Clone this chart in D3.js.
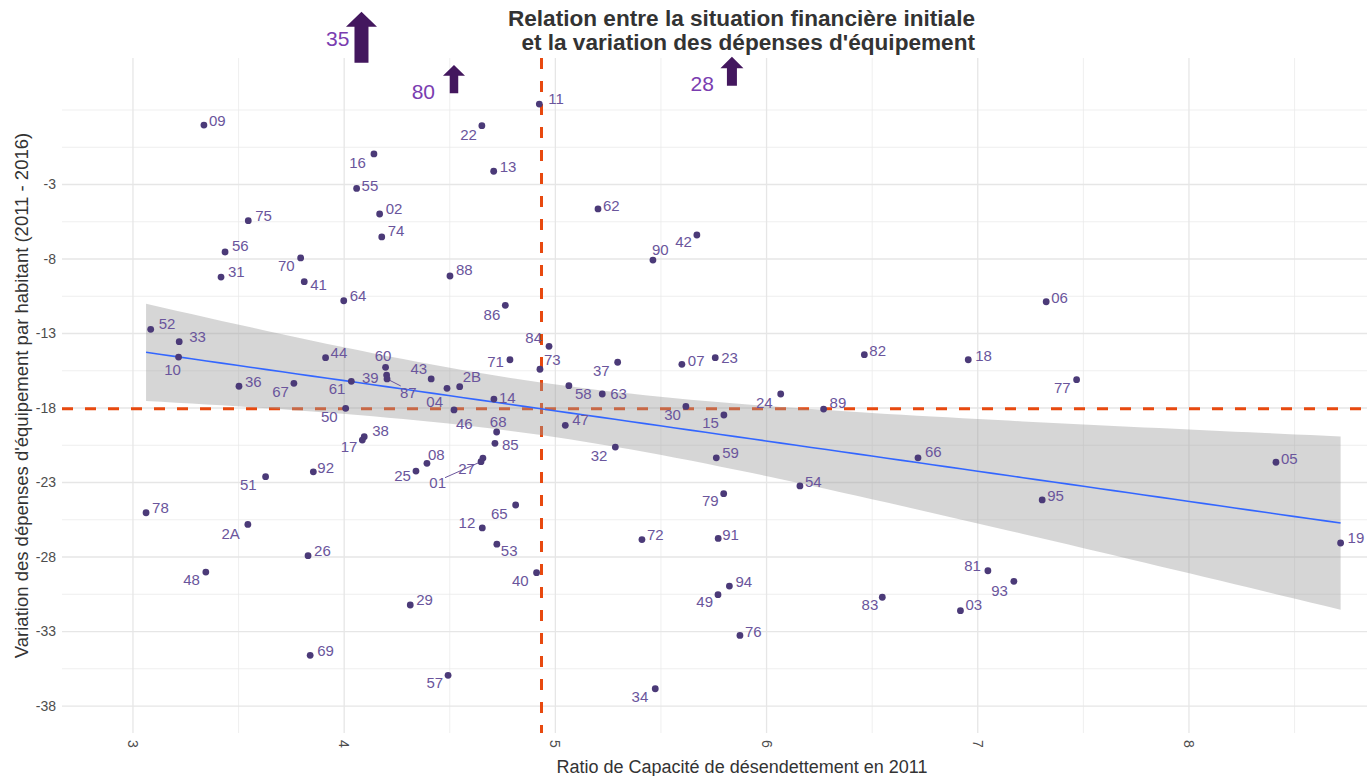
<!DOCTYPE html>
<html>
<head>
<meta charset="utf-8">
<script src="https://cdn.jsdelivr.net/npm/d3@7"></script>
<style>
  body { margin: 0; background: #fff; }
  text { font-family: "Liberation Sans", Arial, sans-serif; }
</style>
</head>
<body>
<svg id="chart" width="1367" height="776"></svg>
<script>
// Departments, ratio of debt capacity in 2011 (x) and variation of equipment spending per inhabitant (y)
const depts = ["09","11","22","16","13","55","02","74","75","56",
	"70","31","41","64","88","52","33","10","44","60",
	"39","87","36","67","61","43","04","2B","50","46",
	"14","71","86","84","73","37","07","58","63","30",
	"47","68","85","32","38","17","92","08","25","27",
	"01","65","12","53","72","51","78","2A","26","48",
	"40","29","69","57","34","62","42","90","23","82",
	"18","24","89","15","59","66","54","79","91","95",
	"06","77","05","19","81","93","94","49","83","03","76"];
const ratio2011 = [3.336,4.924,4.652,4.141,4.708,4.059,4.168,4.178,3.546,3.436,
	3.794,3.417,3.811,3.998,4.501,3.084,3.219,3.216,3.912,4.196,
	4.201,4.203,3.502,3.762,4.034,4.412,4.487,4.547,4.007,4.520,
	4.709,4.785,4.763,4.970,4.927,5.295,5.599,5.064,5.222,5.618,
	5.047,4.722,4.714,5.284,4.095,4.086,3.854,4.392,4.340,4.657,
	4.648,4.812,4.654,4.723,5.410,3.628,3.062,3.544,3.829,3.345,
	4.911,4.313,3.839,4.492,5.473,5.202,5.670,5.462,5.757,6.463,
	6.955,6.067,6.270,5.798,5.762,6.717,6.158,5.797,5.771,7.305,
	7.324,7.468,8.412,8.718,7.048,7.171,5.824,5.770,6.548,6.918,5.874];
const varEquip = [0.99,2.40,0.95,-0.95,-2.11,-3.26,-4.98,-6.52,-5.43,-7.53,
	-7.93,-9.21,-9.52,-10.80,-9.14,-12.72,-13.55,-14.58,-14.62,-15.27,
	-15.79,-16.05,-16.54,-16.34,-16.21,-16.05,-16.68,-16.57,-18.02,-18.13,
	-17.40,-14.76,-11.11,-13.86,-15.40,-14.93,-15.07,-16.50,-17.06,-17.89,
	-19.16,-19.61,-20.37,-20.62,-19.93,-20.15,-22.28,-21.71,-22.23,-21.36,
	-21.60,-24.51,-26.05,-27.14,-26.83,-22.61,-25.03,-25.81,-27.91,-29.01,
	-29.05,-31.22,-34.60,-35.94,-36.84,-4.64,-6.39,-8.07,-14.62,-14.42,
	-14.76,-17.06,-18.07,-18.47,-21.34,-21.34,-23.23,-23.75,-26.75,-24.17,
	-10.87,-16.10,-21.64,-27.06,-28.92,-29.63,-29.95,-30.53,-30.70,-31.60,-33.26];

// Departments above the visible range, shown as arrows
const outDepts = ["35", "80", "28"];
const outRatio = [4.082, 4.520, 5.836];

const xTicks = [3, 4, 5, 6, 7, 8];
const yTicks = [-38, -33, -28, -23, -18, -13, -8, -3];
const tCrit = 1.987; // qt(0.975, n - 2)

// label placement (ggrepel-like): [dx, dy, anchor]; dx < 0 means text ends left of the dot
const labelPos = {
	"09":[5,-4],"11":[9,-5],"22":[-5,9],"16":[-8,9],"13":[6,-4],"55":[5,-3],"02":[6,-5],"74":[6,-6],
	"75":[7,-5],"56":[7,-6],"70":[-6,8],"31":[7,-5],"41":[6,3],"64":[6,-5],"88":[6,-6],"52":[8,-6],
	"33":[10,-5],"10":[-6,13,"middle"],"44":[5,-5],"60":[-2.5,-12,"middle"],"39":[-8,3],"87":[13,14],
	"36":[6,-5],"67":[-5,8],"61":[-6,7],"43":[-4,-10],"04":[-4,13],"2B":[3,-10],"50":[-8,8],"46":[2,14],
	"14":[5,-1],"71":[-6,2],"86":[-5,9],"84":[-7,-9],"73":[4,-10],"37":[-8,8],"07":[6,-4],"58":[6,8],
	"63":[8,0],"30":[-5,8],"47":[7,-6],"68":[1.5,-10,"middle"],"85":[7,1],"32":[-8,9],"38":[8,-6],
	"17":[-5,7],"92":[4,-4],"08":[1,-9],"25":[-5,5],"27":[-8,11],"01":[-35,21],"65":[-8,9],"12":[-7,-5],
	"53":[4,7],"72":[5,-5],"51":[-9,8],"78":[6,-5],"2A":[-8,9],"26":[6,-5],"48":[-6,8],"40":[-8,8],
	"29":[6,-5],"69":[7,-5],"57":[-5,7],"34":[-7,8],"62":[5,-3],"42":[-5,7],"90":[-1,-10,"start"],"23":[6,0],
	"82":[5,-4],"18":[7,-4],"24":[-8,9],"89":[6,-6],"15":[-5,8],"59":[6,-5],"66":[7,-6],"54":[5,-4],
	"79":[-5,7],"91":[4,-4],"95":[5,-4],"06":[5,-4],"77":[-6,8],"05":[5,-4],"19":[7,-5],"81":[-7,-5],
	"93":[-6,9],"94":[6,-4],"49":[-5,7],"83":[-4,7],"03":[5,-6],"76":[5,-4]
};
// leader segments for labels pushed away from their dot
const leaders = { "87": [13.7, 7], "01": [-36, 16] };
// arrow shapes for the off-chart departments
const arrowShape = {
	"35": { tip: 11.7, neck: 26.7, bottom: 62.7, head: 31, shaft: 14, tx: 12 },
	"80": { tip: 65, neck: 75.7, bottom: 93.3, head: 22, shaft: 8.5, tx: 19 },
	"28": { tip: 56.7, neck: 68.3, bottom: 85.7, head: 23, shaft: 10, tx: 18 }
};

const data = depts.map((d, i) => ({ dep: d, x: ratio2011[i], y: varEquip[i] }));

const svg = d3.select("#chart");
const panel = { left: 62, right: 1367, top: 58, bottom: 733 };

const x = d3.scaleLinear().domain([2.664, 8.843]).range([panel.left, panel.right]);
const y = d3.scaleLinear().domain([-39.81, 5.49]).range([panel.bottom, panel.top]);

// grid
const xMinor = xTicks.map(t => t + 0.5).filter(t => t < x.domain()[1]);
const yMinor = yTicks.map(t => t + 2.5).concat([yTicks[yTicks.length - 1] + 5]);
const grid = svg.append("g");
grid.selectAll(".xminor").data(xMinor).enter().append("line")
	.attr("x1", d => x(d)).attr("x2", d => x(d))
	.attr("y1", panel.top).attr("y2", panel.bottom)
	.attr("stroke", "#ebebeb").attr("stroke-width", 0.8);
grid.selectAll(".yminor").data(yMinor).enter().append("line")
	.attr("y1", d => y(d)).attr("y2", d => y(d))
	.attr("x1", panel.left).attr("x2", panel.right)
	.attr("stroke", "#ebebeb").attr("stroke-width", 0.8);
grid.selectAll(".xmajor").data(xTicks).enter().append("line")
	.attr("x1", d => x(d)).attr("x2", d => x(d))
	.attr("y1", panel.top).attr("y2", panel.bottom)
	.attr("stroke", "#e6e6e6").attr("stroke-width", 1.3);
grid.selectAll(".ymajor").data(yTicks).enter().append("line")
	.attr("y1", d => y(d)).attr("y2", d => y(d))
	.attr("x1", panel.left).attr("x2", panel.right)
	.attr("stroke", "#e6e6e6").attr("stroke-width", 1.3);

// axes labels
svg.append("g").selectAll("text").data(yTicks).enter().append("text")
	.attr("x", 56).attr("y", d => y(d)).attr("dy", "0.35em")
	.attr("text-anchor", "end").attr("font-size", 14).attr("fill", "#4d4d4d")
	.text(d => d);
svg.append("g").selectAll("text").data(xTicks).enter().append("text")
	.attr("transform", d => `translate(${x(d)},740) rotate(90)`)
	.attr("dy", "0.35em").attr("text-anchor", "start")
	.attr("font-size", 14).attr("fill", "#4d4d4d")
	.text(d => d);

// mean reference lines
const xMean = d3.mean(data, d => d.x);
const yMean = d3.mean(data, d => d.y);
svg.append("line")
	.attr("x1", x(xMean)).attr("x2", x(xMean)).attr("y1", panel.top).attr("y2", panel.bottom)
	.attr("stroke", "#e8490f").attr("stroke-width", 3).attr("stroke-dasharray", "11,12");
svg.append("line")
	.attr("x1", panel.left).attr("x2", panel.right).attr("y1", y(yMean)).attr("y2", y(yMean))
	.attr("stroke", "#e8490f").attr("stroke-width", 3).attr("stroke-dasharray", "11,12");

// linear fit with 95% confidence band
const n = data.length;
const sxx = d3.sum(data, d => (d.x - xMean) ** 2);
const sxy = d3.sum(data, d => (d.x - xMean) * (d.y - yMean));
const slope = sxy / sxx;
const icpt = yMean - slope * xMean;
const rss = d3.sum(data, d => (d.y - (icpt + slope * d.x)) ** 2);
const sigma = Math.sqrt(rss / (n - 2));
const [xMin, xMax] = d3.extent(data, d => d.x);
const fit = d3.range(80).map(i => {
	const xv = xMin + (xMax - xMin) * i / 79;
	const yv = icpt + slope * xv;
	const se = sigma * Math.sqrt(1 / n + (xv - xMean) ** 2 / sxx);
	return { x: xv, y: yv, lo: yv - tCrit * se, hi: yv + tCrit * se };
});
svg.append("path").datum(fit)
	.attr("d", d3.area().x(d => x(d.x)).y0(d => y(d.lo)).y1(d => y(d.hi)))
	.attr("fill", "#999999").attr("fill-opacity", 0.4);
svg.append("path").datum(fit)
	.attr("d", d3.line().x(d => x(d.x)).y(d => y(d.y)))
	.attr("fill", "none").attr("stroke", "#3366ff").attr("stroke-width", 1.6);

// leader segments
svg.append("g").selectAll("line").data(data.filter(d => leaders[d.dep])).enter().append("line")
	.attr("x1", d => x(d.x)).attr("y1", d => y(d.y))
	.attr("x2", d => x(d.x) + leaders[d.dep][0]).attr("y2", d => y(d.y) + leaders[d.dep][1])
	.attr("stroke", "#6a559c").attr("stroke-width", 1);

// points
svg.append("g").selectAll("circle").data(data).enter().append("circle")
	.attr("cx", d => x(d.x)).attr("cy", d => y(d.y)).attr("r", 3.4)
	.attr("fill", "#4b3a78");

// point labels
svg.append("g").selectAll("text").data(data).enter().append("text")
	.attr("x", d => x(d.x) + labelPos[d.dep][0])
	.attr("y", d => y(d.y) + labelPos[d.dep][1])
	.attr("dy", "0.35em")
	.attr("text-anchor", d => labelPos[d.dep][2] || (labelPos[d.dep][0] < 0 ? "end" : "start"))
	.attr("font-size", 15).attr("fill", "#6a559c")
	.text(d => d.dep);

// off-chart arrows
const arrows = svg.append("g");
outDepts.forEach((dep, i) => {
	const a = arrowShape[dep];
	const cx = x(outRatio[i]);
	const pts = [
		[cx, a.tip], [cx + a.head / 2, a.neck], [cx + a.shaft / 2, a.neck],
		[cx + a.shaft / 2, a.bottom], [cx - a.shaft / 2, a.bottom],
		[cx - a.shaft / 2, a.neck], [cx - a.head / 2, a.neck]
	];
	arrows.append("polygon").attr("points", pts.map(p => p.join(",")).join(" "))
		.attr("fill", "#43175e");
	arrows.append("text")
		.attr("x", cx - a.tx).attr("y", a.tip + 26.5).attr("dy", "0.35em")
		.attr("text-anchor", "end").attr("font-size", 21).attr("fill", "#7a3db0")
		.text(dep);
});

// titles (two separate lines)
const titleLines = ["Relation entre la situation financière initiale", "et la variation des dépenses d'équipement"];
svg.append("g").selectAll("text").data(titleLines).enter().append("text")
	.attr("x", 975).attr("y", (d, i) => 26 + i * 24)
	.attr("text-anchor", "end")
	.attr("font-size", 22.6).attr("font-weight", "bold").attr("fill", "#333")
	.text(d => d);

svg.append("text")
	.attr("x", 742).attr("y", 773).attr("text-anchor", "middle")
	.attr("font-size", 18).attr("fill", "#333")
	.text("Ratio de Capacité de désendettement en 2011");
svg.append("text")
	.attr("transform", `translate(28,${(panel.top + panel.bottom) / 2}) rotate(-90)`)
	.attr("text-anchor", "middle").attr("font-size", 18.5).attr("fill", "#333")
	.text("Variation des dépenses d'équipement par habitant (2011 - 2016)");
</script>
</body>
</html>
